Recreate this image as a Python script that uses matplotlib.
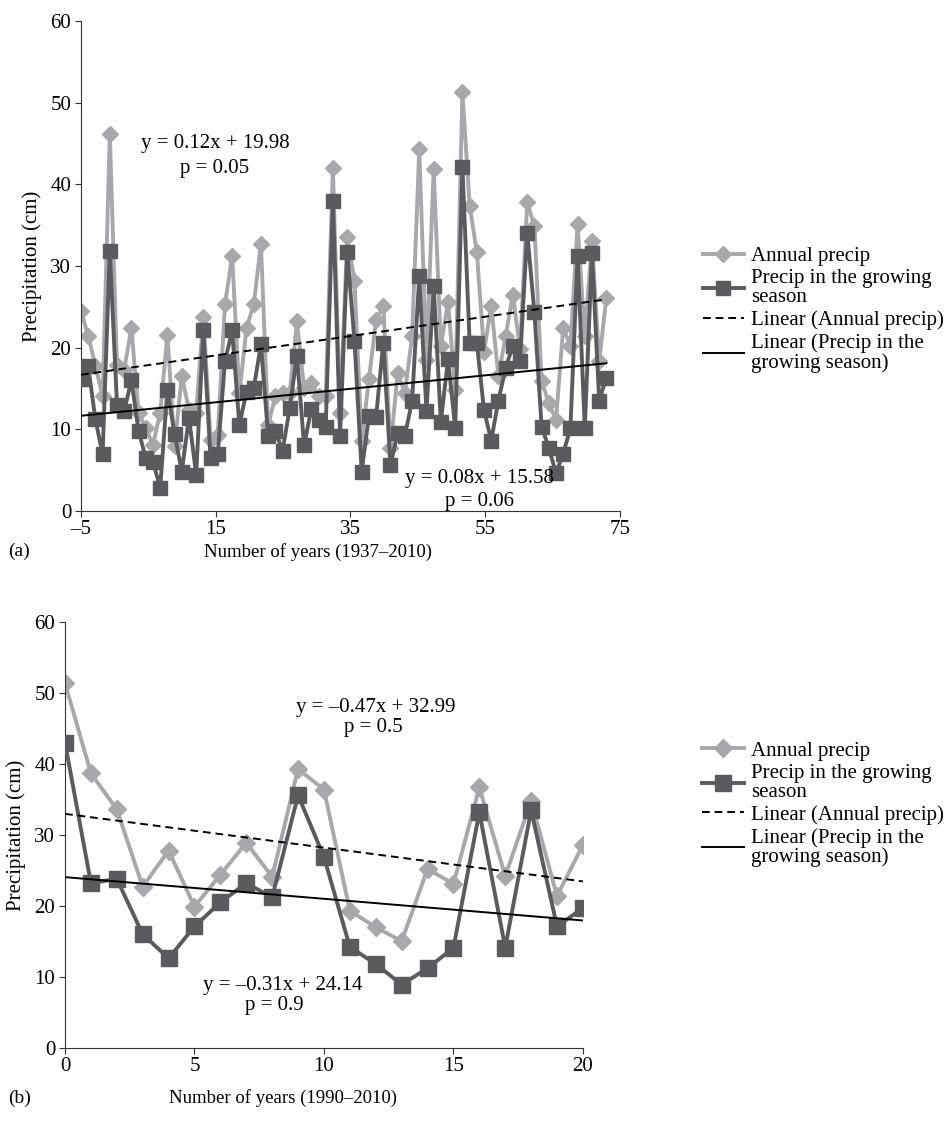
import numpy as np
import matplotlib
matplotlib.use('Agg')
import matplotlib.pyplot as plt

plt.rcParams['font.family'] = ['Liberation Serif', 'DejaVu Serif']
plt.rcParams['font.size'] = 15

# panel (a): 74 yearly values, plotted between x = -5 and 73
annual_a = [24.5, 21.4, 17.8, 14.0, 46.2, 17.9, 17.3, 22.4, 12.0, 10.1,
            8.1, 12.0, 21.6, 7.9, 16.5, 12.4, 12.0, 23.8, 8.7, 9.3,
            25.3, 31.2, 14.4, 22.4, 25.3, 32.7, 10.5, 14.0, 14.4, 14.4,
            23.2, 15.0, 15.7, 14.0, 14.0, 42.0, 12.0, 33.5, 28.2, 8.5,
            16.1, 23.4, 25.1, 7.7, 16.9, 14.4, 21.4, 44.3, 18.5, 41.9,
            20.2, 25.6, 14.8, 51.3, 37.4, 31.7, 19.5, 25.1, 16.5, 21.4,
            26.5, 19.8, 37.8, 34.9, 15.9, 13.2, 11.1, 22.4, 20.2, 35.1,
            21.4, 33.1, 18.3, 26.1]
growing_a = [16.1, 17.7, 11.2, 6.9, 31.9, 13.0, 12.2, 16.0, 9.8, 6.4,
             6.0, 2.8, 14.8, 9.4, 4.8, 11.4, 4.4, 22.1, 6.4, 6.9,
             18.3, 22.1, 10.5, 14.6, 15.0, 20.4, 9.2, 9.8, 7.3, 12.6,
             19.0, 8.0, 12.5, 11.1, 10.3, 38.0, 9.2, 31.7, 20.8, 4.8,
             11.6, 11.5, 20.6, 5.6, 9.5, 9.2, 13.4, 28.8, 12.2, 27.6,
             10.9, 18.6, 10.1, 42.1, 20.6, 20.6, 12.3, 8.6, 13.5, 17.5,
             20.2, 18.3, 34.1, 24.3, 10.3, 7.7, 4.6, 7.0, 10.1, 31.2,
             10.1, 31.6, 13.5, 16.3]
years_a = np.linspace(-5, 73, len(annual_a))
ticks_a = [-5, 15, 35, 55, 75]
ticklabels_a = ['\u20135', '15', '35', '55', '75']

# panel (b): 1990-2010
years_b = np.arange(0, 21)
annual_b = [51.4, 38.7, 33.6, 22.7, 27.8, 19.9, 24.4, 28.9, 24.1, 39.3,
            36.4, 19.3, 17.0, 15.0, 25.2, 23.1, 36.7, 24.2, 34.8, 21.4, 28.6]
growing_b = [43.0, 23.2, 23.8, 16.0, 12.6, 17.1, 20.5, 23.2, 21.2, 35.6,
             26.9, 14.2, 11.8, 8.9, 11.2, 14.1, 33.2, 14.1, 33.5, 17.1, 19.7]

light = '#a7a8ab'
dark = '#5a5b5e'

fig = plt.figure(figsize=(9.52, 11.32), dpi=100)
ax1 = fig.add_axes([0.0851, 0.5489, 0.566, 0.4322])
ax2 = fig.add_axes([0.0683, 0.0745, 0.544, 0.3758])


def draw_panel(ax, x, ann, grow, lw, ms_d, ms_s):
    x = np.asarray(x)
    ax.plot(x, ann, color=light, lw=lw, marker='D', ms=ms_d,
            label='Annual precip', zorder=2)
    ax.plot(x, grow, color=dark, lw=lw, marker='s', ms=ms_s,
            label='Precip in the growing\nseason', zorder=3)
    # linear trend lines
    pa = np.polyfit(x, ann, 1)
    pg = np.polyfit(x, grow, 1)
    xx = np.array([x[0], x[-1]])
    ax.plot(xx, np.polyval(pa, xx), color='black', lw=1.4, ls=(0, (4, 2.5)),
            label='Linear (Annual precip)', zorder=4)
    ax.plot(xx, np.polyval(pg, xx), color='black', lw=1.4,
            label='Linear (Precip in the\ngrowing season)', zorder=4)
    for s in ['top', 'right']:
        ax.spines[s].set_visible(False)
    ax.spines['left'].set_color('#333333')
    ax.spines['bottom'].set_color('#333333')
    ax.tick_params(direction='out', length=4, color='#333333', labelsize=15,
                   pad=3)
    ax.set_ylim(0, 60)
    ax.set_yticks([0, 10, 20, 30, 40, 50, 60])
    ax.set_ylabel('Precipitation (cm)', fontsize=15, labelpad=6)


def add_legend(ax, anchor):
    leg = ax.legend(loc='upper left', bbox_to_anchor=anchor, frameon=False,
                    handlelength=2.0, labelspacing=0.15, fontsize=15,
                    borderaxespad=0, handletextpad=0.35)
    for t in leg.get_texts():
        t.set_linespacing(1.0)
    return leg


draw_panel(ax1, years_a, annual_a, growing_a, 2.8, 8, 10)
ax1.set_xlim(-5, 75)
ax1.set_xticks(ticks_a)
ax1.set_xticklabels(ticklabels_a)
ax1.set_xlabel('Number of years (1937\u20132010)', fontsize=13.5, labelpad=4)
ax1.xaxis.set_label_coords(0.44, -0.066)
ax1.text(14.9, 45.0, 'y = 0.12x + 19.98', ha='center', va='center', fontsize=15)
ax1.text(14.9, 41.9, 'p = 0.05', ha='center', va='center', fontsize=15)
ax1.text(54.2, 3.9, 'y = 0.08x + 15.58', ha='center', va='center', fontsize=15)
ax1.text(54.2, 1.1, 'p = 0.06', ha='center', va='center', fontsize=15)
add_legend(ax1, (1.138, 0.557))

draw_panel(ax2, years_b, annual_b, growing_b, 2.8, 9, 12)
ax2.set_xlim(0, 20)
ax2.set_xticks([0, 5, 10, 15, 20])
ax2.set_xlabel('Number of years (1990\u20132010)', fontsize=13.5, labelpad=4)
ax2.xaxis.set_label_coords(0.42, -0.098)
ax2.text(12.0, 48.0, 'y = \u20130.47x + 32.99', ha='center', va='center', fontsize=15)
ax2.text(11.9, 45.2, 'p = 0.5', ha='center', va='center', fontsize=15)
ax2.text(8.4, 8.8, 'y = \u20130.31x + 24.14', ha='center', va='center', fontsize=15)
ax2.text(8.1, 5.9, 'p = 0.9', ha='center', va='center', fontsize=15)
add_legend(ax2, (1.214, 0.74))

fig.text(8 / 952, 1 - 551 / 1132, '(a)', ha='left', va='center', fontsize=14)
fig.text(8 / 952, 1 - 1098 / 1132, '(b)', ha='left', va='center', fontsize=14)

fig.savefig('out.png', dpi=100)
